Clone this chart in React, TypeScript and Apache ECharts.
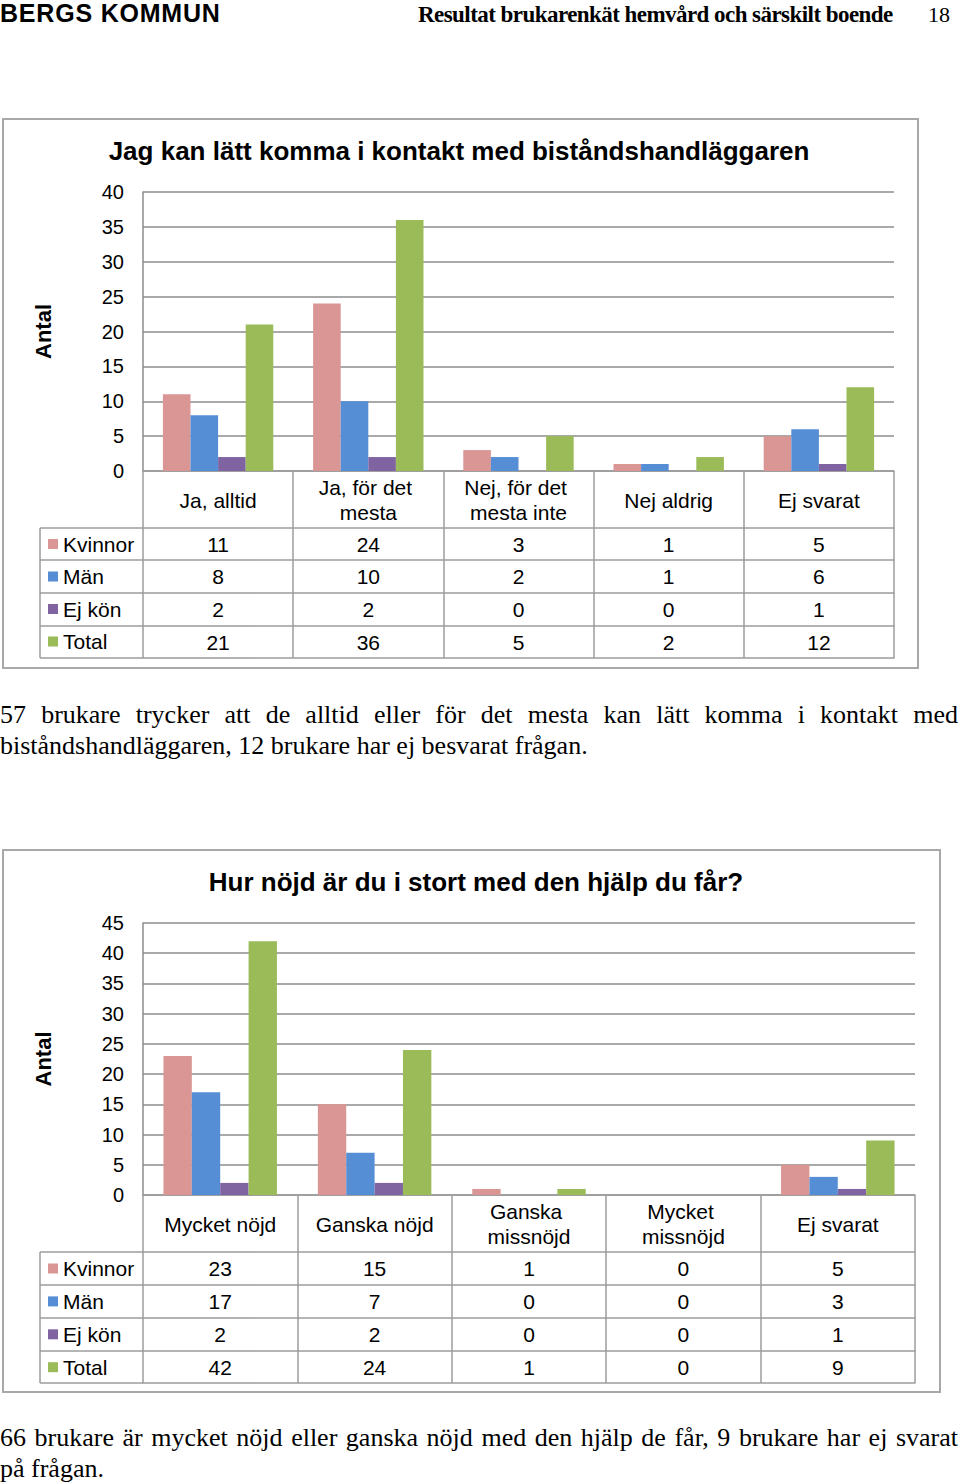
import React, { useEffect, useRef } from "react";
import * as echarts from "echarts";

// ---------- data ----------
const seriesNames = ["Kvinnor", "Män", "Ej kön", "Total"];
const seriesColors = ["#D99694", "#558ED5", "#8064A2", "#9BBB59"];

const categories1 = ["Ja, alltid", "Ja, för det mesta", "Nej, för det mesta inte", "Nej aldrig", "Ej svarat"];
const kvinnor1 = [11, 24, 3, 1, 5];
const man1 = [8, 10, 2, 1, 6];
const ejKon1 = [2, 2, 0, 0, 1];
const total1 = [21, 36, 5, 2, 12];
const yMax1 = 40;

const categories2 = ["Mycket nöjd", "Ganska nöjd", "Ganska missnöjd", "Mycket missnöjd", "Ej svarat"];
const kvinnor2 = [23, 15, 1, 0, 5];
const man2 = [17, 7, 0, 0, 3];
const ejKon2 = [2, 2, 0, 0, 1];
const total2 = [42, 24, 1, 0, 9];
const yMax2 = 45;

const yInterval = 5;
const yAxisName = "Antal";
const title1 = "Jag kan lätt komma i kontakt med biståndshandläggaren";
const title2 = "Hur nöjd är du i stort med den hjälp du får?";

const SANS = "'Liberation Sans', Arial, sans-serif";
const SERIF = "'Liberation Serif', 'Times New Roman', serif";
const GRID_COLOR = "#8c8c8c";
const TABLE_COLOR = "#9c9c9c";
const FRAME_COLOR = "#a8a8a8";

type ChartCfg = {
  cats: string[];
  rows: number[][];
  yMax: number;
  title: string;
  titleX: number;
  titleY: number;
  gridTop: number;
  gridWidth: number;
  gridHeight: number;
  rowOffsets: number[];
  legendTop: number;
  legendGap: number;
  frame: { x: number; y: number; width: number; height: number };
};

const GRID_LEFT = 143;
const TABLE_LEFT = 40;

function buildOption() {
  const cfgs: ChartCfg[] = [
    {
      cats: categories1,
      rows: [kvinnor1, man1, ejKon1, total1],
      yMax: yMax1,
      title: title1,
      titleX: 459,
      titleY: 151,
      gridTop: 192,
      gridWidth: 751,
      gridHeight: 279,
      rowOffsets: [57, 89, 122, 155, 187],
      legendTop: 533.5,
      legendGap: 11.5,
      frame: { x: 3, y: 119, width: 915, height: 549 },
    },
    {
      cats: categories2,
      rows: [kvinnor2, man2, ejKon2, total2],
      yMax: yMax2,
      title: title2,
      titleX: 476,
      titleY: 882,
      gridTop: 923,
      gridWidth: 772,
      gridHeight: 272,
      rowOffsets: [57, 90, 123, 156, 188],
      legendTop: 1258,
      legendGap: 11.9,
      frame: { x: 3, y: 850, width: 937, height: 542 },
    },
  ];

  const grid: any[] = [];
  const xAxis: any[] = [];
  const yAxis: any[] = [];
  const series: any[] = [];
  const legend: any[] = [];
  const graphic: any[] = [];

  cfgs.forEach((cfg, g) => {
    grid.push({
      left: GRID_LEFT,
      top: cfg.gridTop,
      width: cfg.gridWidth,
      height: cfg.gridHeight,
      containLabel: false,
    });
    const mainIndex = xAxis.length;
    const headerH = cfg.rowOffsets[0];
    xAxis.push({
      type: "category",
      gridIndex: g,
      data: cfg.cats,
      position: "bottom",
      axisLine: { show: true, lineStyle: { color: TABLE_COLOR, width: 1.5 } },
      axisTick: { show: true, interval: 0, length: headerH, lineStyle: { color: TABLE_COLOR, width: 1.5 } },
      axisLabel: {
        interval: 0,
        margin: headerH / 2 + 0.5,
        fontSize: 21,
        fontFamily: SANS,
        color: "#000",
        lineHeight: 25,
        verticalAlign: "middle",
        width: 140,
        overflow: "break",
      },
      splitLine: { show: false },
    });
    cfg.rows.forEach((row, k) => {
      const h = cfg.rowOffsets[k + 1] - cfg.rowOffsets[k];
      xAxis.push({
        type: "category",
        gridIndex: g,
        data: cfg.cats,
        position: "bottom",
        offset: cfg.rowOffsets[k],
        axisLine: { show: true, lineStyle: { color: TABLE_COLOR, width: 1.5 } },
        axisTick: { show: true, interval: 0, length: h, lineStyle: { color: TABLE_COLOR, width: 1.5 } },
        axisLabel: {
          interval: 0,
          margin: h / 2,
          fontSize: 21,
          fontFamily: SANS,
          color: "#000",
          verticalAlign: "middle",
          formatter: (_v: string, i: number) => String(row[i]),
        },
        splitLine: { show: false },
      });
    });
    xAxis.push({
      type: "category",
      gridIndex: g,
      data: cfg.cats,
      position: "bottom",
      offset: cfg.rowOffsets[4],
      axisLine: { show: true, lineStyle: { color: TABLE_COLOR, width: 1.5 } },
      axisTick: { show: false },
      axisLabel: { show: false },
      splitLine: { show: false },
    });

    yAxis.push({
      type: "value",
      gridIndex: g,
      min: 0,
      max: cfg.yMax,
      interval: yInterval,
      name: yAxisName,
      nameLocation: "middle",
      nameGap: 89,
      nameTextStyle: { fontSize: 22, fontWeight: "bold", color: "#000", fontFamily: SANS },
      axisLine: { show: true, lineStyle: { color: GRID_COLOR, width: 1.5 } },
      axisTick: { show: false },
      axisLabel: { margin: 19, fontSize: 20, color: "#000", fontFamily: SANS },
      splitLine: { show: true, lineStyle: { color: GRID_COLOR, width: 1.5 } },
    });

    cfg.rows.forEach((row, k) => {
      series.push({
        type: "bar",
        name: seriesNames[k],
        xAxisIndex: mainIndex,
        yAxisIndex: g,
        data: row,
        barGap: "0%",
        barCategoryGap: "26.5%",
        itemStyle: { color: seriesColors[k] },
      });
    });

    legend.push({
      orient: "vertical",
      left: 48,
      top: cfg.legendTop,
      padding: 0,
      itemWidth: 10,
      itemHeight: 10,
      itemGap: cfg.legendGap,
      icon: "rect",
      selectedMode: false,
      data: seriesNames,
      textStyle: { fontSize: 21, color: "#000", fontFamily: SANS },
    });

    // frame
    graphic.push({
      type: "rect",
      shape: cfg.frame,
      style: { fill: "none", stroke: FRAME_COLOR, lineWidth: 2 },
      silent: true,
    });
    // title
    graphic.push({
      type: "text",
      x: cfg.titleX,
      y: cfg.titleY,
      style: {
        text: cfg.title,
        fontSize: 26,
        fontWeight: "bold",
        fontFamily: SANS,
        fill: "#000",
        align: "center",
        verticalAlign: "middle",
      },
      silent: true,
    });
    // left column of table
    const gridBottom = cfg.gridTop + cfg.gridHeight;
    cfg.rowOffsets.forEach((off) => {
      graphic.push({
        type: "line",
        shape: { x1: TABLE_LEFT, y1: gridBottom + off, x2: GRID_LEFT, y2: gridBottom + off },
        style: { stroke: TABLE_COLOR, lineWidth: 1.5 },
        silent: true,
      });
    });
    graphic.push({
      type: "line",
      shape: {
        x1: TABLE_LEFT,
        y1: gridBottom + cfg.rowOffsets[0],
        x2: TABLE_LEFT,
        y2: gridBottom + cfg.rowOffsets[4],
      },
      style: { stroke: TABLE_COLOR, lineWidth: 1.5 },
      silent: true,
    });
  });

  return {
    animation: false,
    backgroundColor: "#fff",
    grid,
    xAxis,
    yAxis,
    series,
    legend,
    graphic,
  };
}

const para1 = [
  "57 brukare trycker att de alltid eller för det mesta kan lätt komma i kontakt med",
  "biståndshandläggaren, 12 brukare har ej besvarat frågan.",
];
const para2 = [
  "66 brukare är mycket nöjd eller ganska nöjd med den hjälp de får, 9 brukare har ej svarat",
  "på frågan.",
];

export default function App() {
  const ref = useRef<HTMLDivElement>(null);
  useEffect(() => {
    if (!ref.current) return;
    const chart = echarts.init(ref.current, undefined, { renderer: "svg" });
    chart.setOption(buildOption() as any);
    return () => chart.dispose();
  }, []);

  const serifLine = (text: string, top: number, justify: boolean) => (
    <div
      style={{
        position: "absolute",
        left: 0,
        top,
        width: 958,
        fontFamily: SERIF,
        fontSize: 26,
        lineHeight: "31px",
        color: "#000",
        textAlign: justify ? "justify" : "left",
        textAlignLast: justify ? "justify" : "left",
        whiteSpace: "nowrap",
      } as any}
    >
      {text}
    </div>
  );

  return (
    <div style={{ position: "absolute", left: 0, top: 0, width: 960, height: 1484, background: "#fff" }}>
      <div ref={ref} style={{ position: "absolute", left: 0, top: 0, width: 960, height: 1484 }} />
      <div
        style={{
          position: "absolute",
          left: 0,
          top: 1,
          fontFamily: SANS,
          fontWeight: "bold",
          fontSize: 25,
          lineHeight: "25px",
          letterSpacing: "0.8px",
          whiteSpace: "nowrap",
          color: "#000",
        }}
      >
        BERGS KOMMUN
      </div>
      <div
        style={{
          position: "absolute",
          left: 418,
          top: 3,
          fontFamily: SERIF,
          fontWeight: "bold",
          fontSize: 23,
          lineHeight: "23px",
          letterSpacing: "-0.55px",
          whiteSpace: "nowrap",
          color: "#000",
        }}
      >
        Resultat brukarenkät hemvård och särskilt boende
      </div>
      <div
        style={{
          position: "absolute",
          left: 928,
          top: 3,
          fontFamily: SERIF,
          fontSize: 22,
          lineHeight: "23px",
          whiteSpace: "nowrap",
          color: "#000",
        }}
      >
        18
      </div>
      {serifLine(para1[0], 699, true)}
      {serifLine(para1[1], 730, false)}
      {serifLine(para2[0], 1422, true)}
      {serifLine(para2[1], 1453, false)}
    </div>
  );
}
